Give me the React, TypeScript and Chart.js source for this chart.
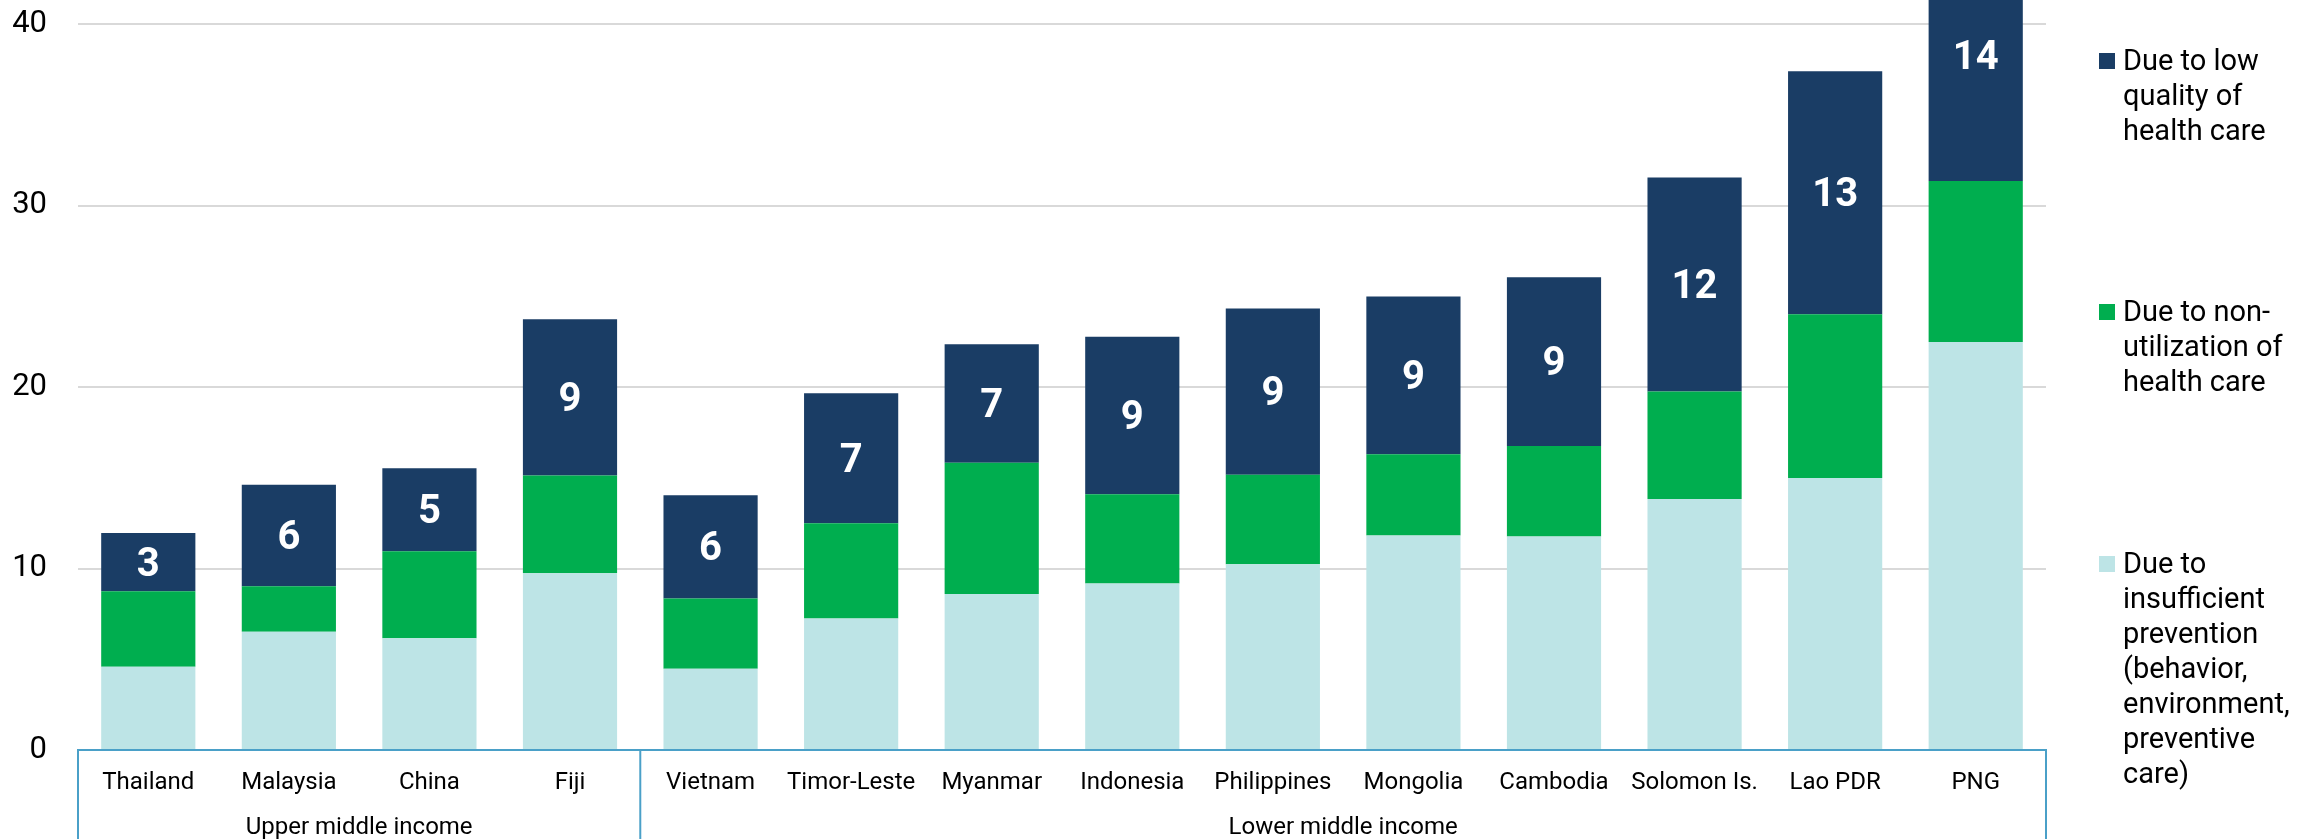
import React, { useEffect, useRef } from 'react';
import { Chart, registerables } from 'chart.js';

Chart.register(...registerables);

const categories = [
  'Thailand', 'Malaysia', 'China', 'Fiji', 'Vietnam', 'Timor-Leste', 'Myanmar',
  'Indonesia', 'Philippines', 'Mongolia', 'Cambodia', 'Solomon Is.', 'Lao PDR', 'PNG',
];

const groupNames = ['Upper middle income', 'Lower middle income'];
const groupStarts = [0, 4];
const groupEnds = [3, 13];

const preventionValues = [4.59, 6.51, 6.16, 9.74, 4.48, 7.25, 8.6, 9.17, 10.24, 11.82, 11.76, 13.83, 14.99, 22.48];
const nonUtilizationValues = [4.15, 2.51, 4.79, 5.38, 3.87, 5.25, 7.22, 4.92, 4.92, 4.48, 4.99, 5.92, 9.02, 8.87];
const lowQualityValues = [3.21, 5.6, 4.58, 8.61, 5.68, 7.16, 6.54, 8.68, 9.17, 8.68, 9.29, 11.79, 13.39, 13.8];

const yMin = 0;
const yMax = 40;
const yStep = 10;

const seriesNames = [
  'Due to insufficient prevention (behavior, environment, preventive care)',
  'Due to non-utilization of health care',
  'Due to low quality of health care',
];
const seriesColors = ['#bde4e6', '#00ae4f', '#1a3d65'];

const legendLines = [
  ['Due to low', 'quality of', 'health care'],
  ['Due to non-', 'utilization of', 'health care'],
  ['Due to', 'insufficient', 'prevention', '(behavior,', 'environment,', 'preventive', 'care)'],
];
const legendColors = ['#1a3d65', '#00ae4f', '#bde4e6'];

const FONT = "Roboto, 'Noto Sans', 'Liberation Sans', sans-serif";
const BOX_COLOR = '#4aa0c8';

const barLabelPlugin = {
  id: 'barLabels',
  afterDatasetsDraw(chart: any) {
    const ctx = chart.ctx;
    const meta = chart.getDatasetMeta(2);
    const data = chart.data.datasets[2].data as number[];
    ctx.save();
    ctx.fillStyle = '#ffffff';
    ctx.font = `bold 40px ${FONT}`;
    ctx.textAlign = 'center';
    ctx.textBaseline = 'middle';
    meta.data.forEach((el: any, i: number) => {
      const yc = (el.y + el.base) / 2;
      ctx.fillText(String(Math.round(data[i])), el.x, yc + 3.5);
    });
    ctx.restore();
  },
};

const groupBoxPlugin = {
  id: 'groupBox',
  afterDraw(chart: any) {
    const ctx = chart.ctx;
    const xs = chart.scales.x;
    const top = xs.top;
    const bottom = chart.height;
    const half = (xs.getPixelForValue(1) - xs.getPixelForValue(0)) / 2;
    ctx.save();
    ctx.strokeStyle = BOX_COLOR;
    ctx.lineWidth = 2;
    const edges: number[] = [];
    groupStarts.forEach((s) => edges.push(xs.getPixelForValue(s) - half));
    edges.push(xs.getPixelForValue(groupEnds[groupEnds.length - 1]) + half);
    edges.forEach((ex) => {
      ctx.beginPath();
      ctx.moveTo(ex, top);
      ctx.lineTo(ex, bottom);
      ctx.stroke();
    });
    ctx.fillStyle = '#000';
    ctx.font = `24px ${FONT}`;
    ctx.textAlign = 'center';
    ctx.textBaseline = 'alphabetic';
    groupNames.forEach((name, gi) => {
      const cx = (xs.getPixelForValue(groupStarts[gi]) + xs.getPixelForValue(groupEnds[gi])) / 2;
      ctx.fillText(name, cx, top + 84);
    });
    ctx.restore();
  },
};

const legendPlugin = {
  id: 'sideLegend',
  afterDraw(chart: any) {
    const ctx = chart.ctx;
    const area = chart.chartArea;
    const boxX = area.right + 53;
    const textX = boxX + 24;
    const firstBaselines = [70, 321, 573];
    const lineH = 35;
    ctx.save();
    ctx.font = `29px ${FONT}`;
    ctx.textAlign = 'left';
    ctx.textBaseline = 'alphabetic';
    legendLines.forEach((lines, i) => {
      const b = firstBaselines[i];
      ctx.fillStyle = legendColors[i];
      ctx.fillRect(boxX, b - 17, 16, 16);
      ctx.fillStyle = '#000';
      lines.forEach((ln, j) => ctx.fillText(ln, textX, b + j * lineH));
    });
    ctx.restore();
  },
};

export default function App() {
  const canvasRef = useRef<HTMLCanvasElement | null>(null);

  useEffect(() => {
    const canvas = canvasRef.current;
    if (!canvas) return;
    const values = [preventionValues, nonUtilizationValues, lowQualityValues];
    const chart = new Chart(canvas, {
      type: 'bar',
      data: {
        labels: categories,
        datasets: values.map((v, i) => ({
          label: seriesNames[i],
          data: v,
          backgroundColor: seriesColors[i],
          borderWidth: 0,
          barPercentage: 0.67,
          categoryPercentage: 1,
          clip: false as any,
        })),
      },
      options: {
        responsive: false,
        maintainAspectRatio: false,
        animation: false,
        devicePixelRatio: 1,
        layout: { padding: { top: 24, right: 271, left: 0, bottom: 0 } },
        plugins: {
          legend: { display: false },
          tooltip: { enabled: false },
        },
        scales: {
          x: {
            stacked: true,
            grid: { display: false, drawTicks: false },
            border: { display: true, color: BOX_COLOR, width: 2 },
            ticks: {
              font: { family: FONT, size: 24 },
              color: '#000',
              padding: 19,
              maxRotation: 0,
              autoSkip: false,
            },
            afterFit: (s: any) => {
              s.height = 89;
            },
          },
          y: {
            stacked: true,
            min: yMin,
            max: yMax,
            grid: { color: '#d9d9d9', lineWidth: 2, drawTicks: false },
            border: { display: false },
            ticks: {
              stepSize: yStep,
              font: { family: FONT, size: 31 },
              color: '#000',
              padding: 31,
            },
            afterFit: (s: any) => {
              s.width = 78;
              s.paddingTop = 0;
              s.paddingBottom = 0;
            },
          },
        },
      },
      plugins: [barLabelPlugin, groupBoxPlugin, legendPlugin],
    });
    return () => chart.destroy();
  }, []);

  return (
    <div style={{ position: 'absolute', left: 0, top: 0, width: 2317, height: 839, background: '#fff' }}>
      <canvas ref={canvasRef} width={2317} height={839} style={{ display: 'block' }} />
    </div>
  );
}
